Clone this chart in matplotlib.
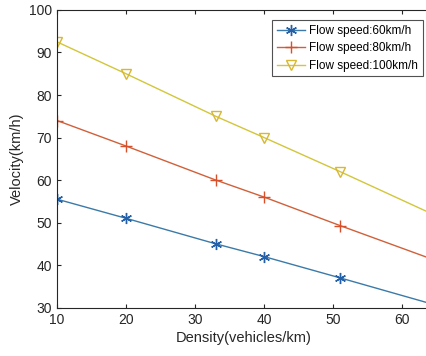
import matplotlib
matplotlib.use("Agg")
import matplotlib.pyplot as plt

plt.rcParams["font.family"] = ["Liberation Sans", "DejaVu Sans"]

# Data
density = [10, 20, 33, 40, 51, 64]
v_60 = [55.5, 51.0, 45.0, 42.0, 37.0, 31.0]
v_80 = [74.0, 68.0, 60.0, 56.0, 49.3, 41.6]
v_100 = [92.5, 85.0, 75.0, 70.0, 62.0, 52.3]
labels = ["Flow speed:60km/h", "Flow speed:80km/h", "Flow speed:100km/h"]

fig = plt.figure(figsize=(4.27, 3.56), dpi=100)
ax = fig.add_axes([0.1335, 0.136, 0.8726, 0.836])

marks = [0, 1, 2, 3, 4]
ax.plot(density, v_60, color="#3b7aa8", linewidth=1.0, marker=(6, 2, 0), markersize=8,
        markeredgewidth=1.0, markeredgecolor="#2360a8",
        markevery=marks, label=labels[0])
ax.plot(density, v_80, color="#d0603a", linewidth=1.0, marker="+", markersize=8,
        markeredgewidth=1.0, markeredgecolor="#d8502a",
        markevery=marks, label=labels[1])
ax.plot(density, v_100, color="#d2c63a", linewidth=1.0, marker="v", markersize=7,
        markeredgewidth=1.0, markerfacecolor="none", markeredgecolor="#d8b830",
        markevery=marks, label=labels[2])

ax.set_xlim(10, 64)
ax.set_ylim(30, 100)
ax.set_xticks([10, 20, 30, 40, 50, 60])
ax.set_yticks([30, 40, 50, 60, 70, 80, 90, 100])
ax.tick_params(direction="in", length=3, width=0.8, labelsize=10, top=True,
               colors="#262626")
ax.tick_params(axis="x", pad=4)
for s in ax.spines.values():
    s.set_color("#262626")
    s.set_linewidth(0.8)

ax.set_xlabel("Density(vehicles/km)", fontsize=10.5, color="#262626", labelpad=3)
ax.set_ylabel("Velocity(km/h)", fontsize=10.5, color="#262626", labelpad=4)

leg = ax.legend(loc="upper left", bbox_to_anchor=(0.578, 0.965), fontsize=8.5,
                frameon=True, fancybox=False, edgecolor="#262626",
                handlelength=2.4, handletextpad=0.3, borderpad=0.4,
                labelspacing=0.45, borderaxespad=0)
leg.get_frame().set_linewidth(0.8)

fig.savefig("out.png", dpi=100)
